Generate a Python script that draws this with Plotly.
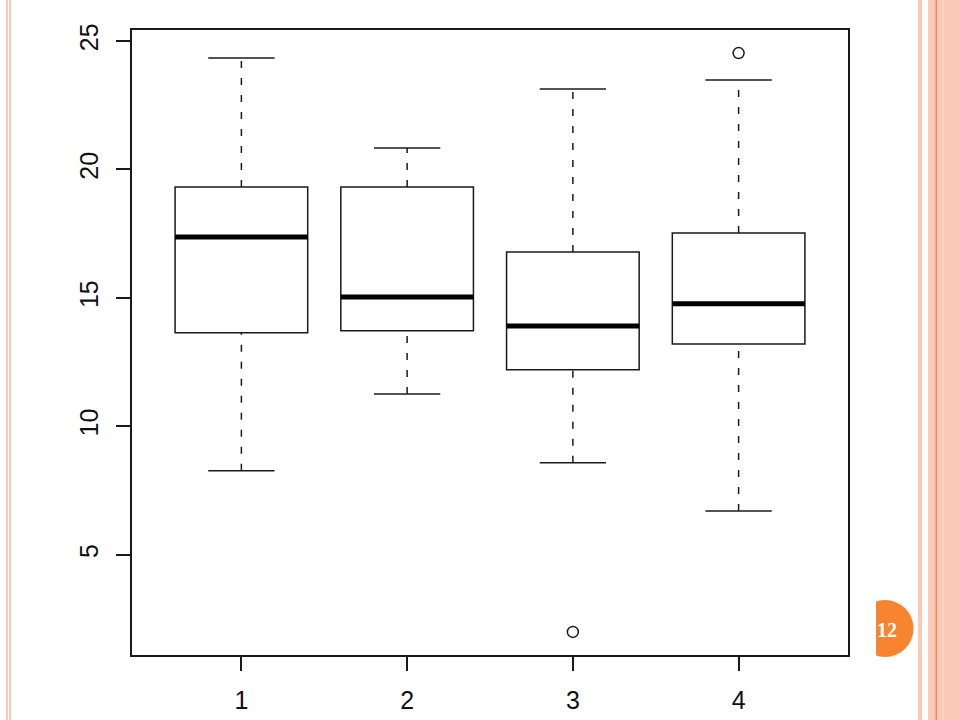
import plotly.graph_objects as go

# ---- data ----
groups = [1, 2, 3, 4]
lower_whisker = [8.27, 11.26, 8.58, 6.71]
q1 = [13.64, 13.72, 12.20, 13.21]
median = [17.37, 15.04, 13.91, 14.77]
q3 = [19.32, 19.32, 16.79, 17.53]
upper_whisker = [24.34, 20.84, 23.13, 23.48]
outlier_group = [3, 4]
outlier_value = [2.0, 24.53]
y_ticks = [5, 10, 15, 20, 25]
page_number = "12"

BOX_HALF = 0.4
CAP_HALF = 0.2
LINE = "#1a1a1a"

# layout geometry (pixels)
W, H = 960, 720
L, R, T, B = 132, 848, 30, 655
PW, PH = R - L, B - T


def px(x):
    return (x - L) / PW


def py(y):
    return (B - y) / PH


fig = go.Figure()

# boxes
fig.add_trace(go.Box(
    x=groups, q1=q1, median=median, q3=q3,
    lowerfence=q1, upperfence=q3,
    width=2 * BOX_HALF, fillcolor="white",
    line=dict(color=LINE, width=1.5),
    whiskerwidth=0, boxpoints=False, hoverinfo="skip",
    showlegend=False,
))

# whiskers (dashed) and caps
wx, wy, cx, cy, mx, my = [], [], [], [], [], []
for g, lo, a, b, hi, m in zip(groups, lower_whisker, q1, q3, upper_whisker, median):
    wx += [g, g, None, g, g, None]
    wy += [lo, a, None, b, hi, None]
    cx += [g - CAP_HALF, g + CAP_HALF, None, g - CAP_HALF, g + CAP_HALF, None]
    cy += [lo, lo, None, hi, hi, None]
    mx += [g - BOX_HALF, g + BOX_HALF, None]
    my += [m, m, None]

fig.add_trace(go.Scatter(x=wx, y=wy, mode="lines",
                         line=dict(color=LINE, width=1.5, dash="7px,10px"),
                         showlegend=False, hoverinfo="skip"))
fig.add_trace(go.Scatter(x=cx, y=cy, mode="lines",
                         line=dict(color=LINE, width=1.5),
                         showlegend=False, hoverinfo="skip"))
fig.add_trace(go.Scatter(x=mx, y=my, mode="lines",
                         line=dict(color="black", width=5),
                         showlegend=False, hoverinfo="skip"))
fig.add_trace(go.Scatter(x=outlier_group, y=outlier_value, mode="markers",
                         marker=dict(symbol="circle-open", size=11,
                                     color=LINE, line=dict(width=1.5)),
                         showlegend=False, hoverinfo="skip"))

axis_common = dict(
    showgrid=False, zeroline=False, showline=True, mirror=True,
    linecolor=LINE, linewidth=1.5, ticks="outside", ticklen=14,
    tickwidth=1.5, tickcolor=LINE, automargin=False,
    tickfont=dict(family="Liberation Sans, Arial, sans-serif", size=25, color="#111"),
)

fig.update_xaxes(range=[0.34, 4.66], tickvals=groups,
                 ticktext=[str(g) for g in groups], ticklabelstandoff=8,
                 **axis_common)
fig.update_yaxes(range=[1.1, 25.43], tickvals=y_ticks,
                 ticktext=[str(v) for v in y_ticks], tickangle=-90,
                 ticklabelstandoff=8, **axis_common)

# slide decorations
PINK = "#fbcab6"
ORANGE = "#f2884f"
shapes = [
    # left border lines
    dict(type="rect", xref="paper", yref="paper", x0=px(6), x1=px(8),
         y0=py(0), y1=py(H), fillcolor=PINK, line_width=0, layer="below"),
    dict(type="rect", xref="paper", yref="paper", x0=px(9), x1=px(11),
         y0=py(0), y1=py(H), fillcolor=PINK, line_width=0, layer="below"),
    # right border
    dict(type="rect", xref="paper", yref="paper", x0=px(918), x1=px(922),
         y0=py(0), y1=py(H), fillcolor=PINK, line_width=0, layer="below"),
    dict(type="rect", xref="paper", yref="paper", x0=px(928), x1=px(960),
         y0=py(0), y1=py(H), fillcolor=PINK, line_width=0, layer="below"),
    dict(type="rect", xref="paper", yref="paper", x0=px(935.5), x1=px(937),
         y0=py(0), y1=py(H), fillcolor=ORANGE, line_width=0, layer="below"),
    dict(type="rect", xref="paper", yref="paper", x0=px(942), x1=px(944),
         y0=py(0), y1=py(H), fillcolor="#fcd3c2", line_width=0, layer="below"),
    # page number circle
    dict(type="circle", xref="paper", yref="paper", x0=px(856.5), x1=px(913.5),
         y0=py(600), y1=py(657), fillcolor="#f7852f", line_width=0, layer="above"),
    dict(type="rect", xref="paper", yref="paper", x0=px(850), x1=px(876),
         y0=py(595), y1=py(662), fillcolor="white", line_width=0, layer="above"),
]

fig.update_layout(
    width=W, height=H, autosize=False,
    margin=dict(l=L, r=W - R, t=T, b=H - B, pad=0, autoexpand=False),
    paper_bgcolor="white", plot_bgcolor="white",
    shapes=shapes,
    annotations=[dict(text="<b>" + page_number + "</b>", xref="paper", yref="paper",
                      x=px(887), y=py(630), showarrow=False,
                      font=dict(family="Liberation Serif, serif", size=20, color="white"),
                      xanchor="center", yanchor="middle")],
)

fig.write_html("out.html",
               config={"displayModeBar": False},
               post_script="document.body.style.margin='0';"
                           "document.body.style.overflow='hidden';")
